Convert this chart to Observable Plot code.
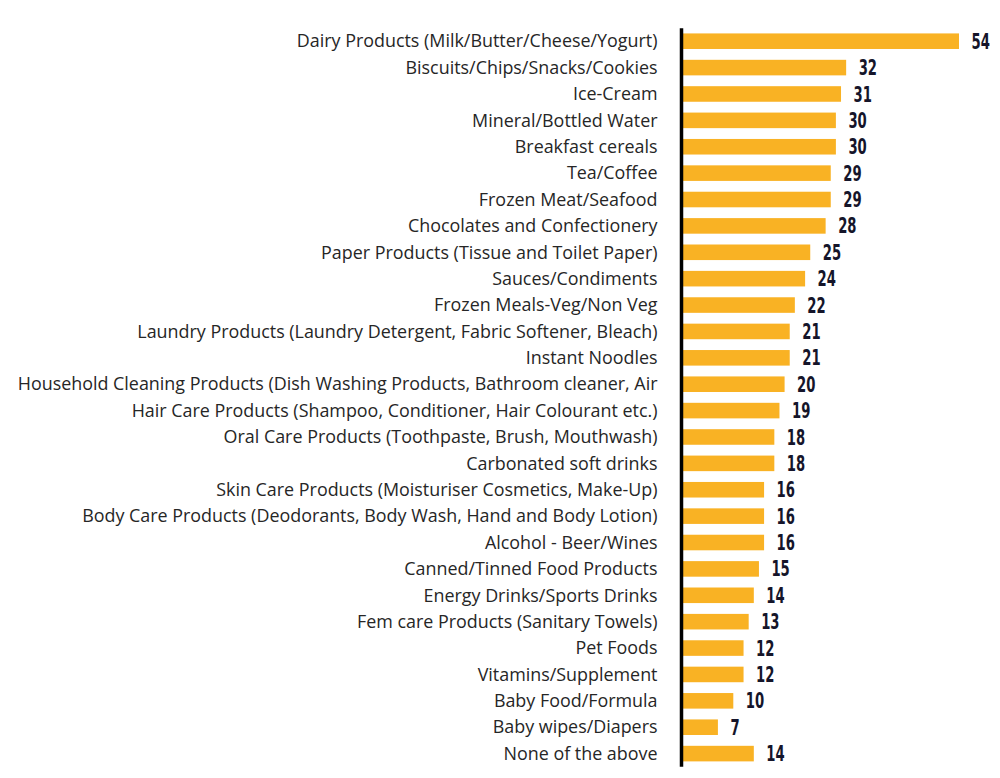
<!DOCTYPE html>
<html>
<head>
<meta charset="utf-8">
<script src="https://cdn.jsdelivr.net/npm/d3@7"></script>
<script src="https://cdn.jsdelivr.net/npm/@observablehq/plot@0.6"></script>
<style>
  html, body { margin: 0; padding: 0; background: #fff; }
  #chart svg { display: block; }
</style>
</head>
<body>
<div id="chart"></div>
<script>
const categories = [
  "Dairy Products (Milk/Butter/Cheese/Yogurt)",
  "Biscuits/Chips/Snacks/Cookies",
  "Ice-Cream",
  "Mineral/Bottled Water",
  "Breakfast cereals",
  "Tea/Coffee",
  "Frozen Meat/Seafood",
  "Chocolates and Confectionery",
  "Paper Products (Tissue and Toilet Paper)",
  "Sauces/Condiments",
  "Frozen Meals-Veg/Non Veg",
  "Laundry Products (Laundry Detergent, Fabric Softener, Bleach)",
  "Instant Noodles",
  "Household Cleaning Products (Dish Washing Products, Bathroom cleaner, Air",
  "Hair Care Products (Shampoo, Conditioner, Hair Colourant etc.)",
  "Oral Care Products (Toothpaste, Brush, Mouthwash)",
  "Carbonated soft drinks",
  "Skin Care Products (Moisturiser Cosmetics, Make-Up)",
  "Body Care Products (Deodorants, Body Wash, Hand and Body Lotion)",
  "Alcohol - Beer/Wines",
  "Canned/Tinned Food Products",
  "Energy Drinks/Sports Drinks",
  "Fem care Products (Sanitary Towels)",
  "Pet Foods",
  "Vitamins/Supplement",
  "Baby Food/Formula",
  "Baby wipes/Diapers",
  "None of the above"
];
const values = [54, 32, 31, 30, 30, 29, 29, 28, 25, 24, 22, 21, 21, 20, 19, 18, 18, 16, 16, 16, 15, 14, 13, 12, 12, 10, 7, 14];

const data = categories.map((c, i) => ({category: c, value: values[i]}));

const chart = Plot.plot({
  width: 1000,
  height: 778,
  marginLeft: 682,
  marginRight: 41,
  marginTop: 22.6,
  marginBottom: 5.8,
  style: {fontFamily: "'Open Sans', sans-serif", background: "#fff"},
  x: {domain: [0, 54], axis: null},
  y: {domain: categories, padding: 0.41, round: false, label: null},
  marks: [
    Plot.barX(data, {y: "category", x: "value", fill: "#F9B224"}),
    Plot.ruleX([0], {stroke: "#000", strokeWidth: 3.5, insetTop: 5.7, insetBottom: 5.5, dx: -1}),
    Plot.axisY({tickSize: 0, tickPadding: 25, fontSize: 17.9, color: "#262626", label: null}),
    Plot.text(data, {
      y: "category", x: "value", text: d => String(d.value),
      dx: 12, textAnchor: "start",
      fontFamily: "'DejaVu Sans', sans-serif",
      fontWeight: "bold", fontSize: 22, fill: "#15152a",
      className: "vlab"
    })
  ]
});
document.getElementById("chart").appendChild(chart);
// condense the value labels horizontally to mimic a narrow display face
chart.querySelectorAll("g.vlab text, .vlab text").forEach(t => {
  const tr = t.getAttribute("transform") || "";
  t.setAttribute("transform", tr + " scale(0.6,1)");
});
</script>
</body>
</html>
